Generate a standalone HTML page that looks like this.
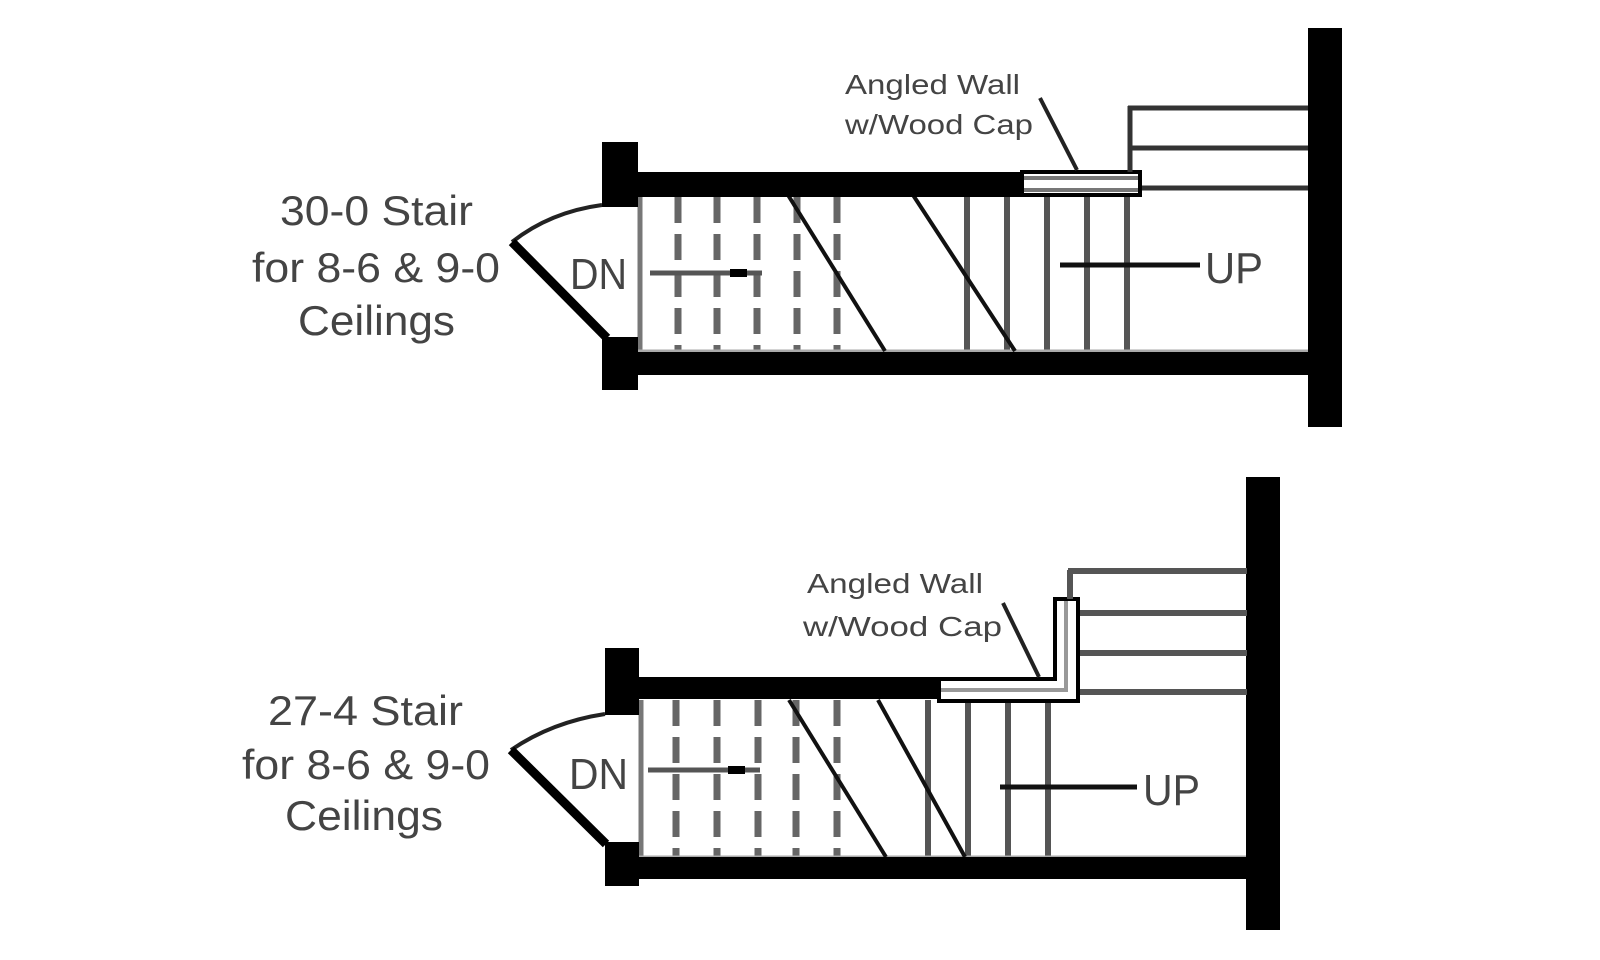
<!DOCTYPE html>
<html><head><meta charset="utf-8"><style>
html,body{margin:0;padding:0;background:#fff;}
svg{display:block;}
text{font-family:"Liberation Sans",sans-serif;fill:#444;}
</style></head><body>
<svg width="1600" height="960" viewBox="0 0 1600 960" xmlns="http://www.w3.org/2000/svg">
<rect width="1600" height="960" fill="#fff"/>

<!-- ========== TOP DIAGRAM ========== -->
<g>
  <text x="280" y="225" font-size="42" textLength="193" lengthAdjust="spacingAndGlyphs">30-0 Stair</text>
  <text x="252" y="282" font-size="42" textLength="248" lengthAdjust="spacingAndGlyphs">for 8-6 &amp; 9-0</text>
  <text x="298" y="335" font-size="42" textLength="157" lengthAdjust="spacingAndGlyphs">Ceilings</text>
  <text x="845" y="94" font-size="28" textLength="175" lengthAdjust="spacingAndGlyphs">Angled Wall</text>
  <text x="845" y="134" font-size="28" textLength="188" lengthAdjust="spacingAndGlyphs">w/Wood Cap</text>
  <text x="570" y="289" font-size="44" textLength="57" lengthAdjust="spacingAndGlyphs" fill="#333">DN</text>
  <text x="1205" y="283" font-size="44" textLength="58" lengthAdjust="spacingAndGlyphs" fill="#333">UP</text>

  <g stroke="#666" stroke-width="7" stroke-dasharray="26,11">
    <line x1="678" y1="197" x2="678" y2="352"/>
    <line x1="717" y1="197" x2="717" y2="352"/>
    <line x1="757" y1="197" x2="757" y2="352"/>
    <line x1="797" y1="197" x2="797" y2="352"/>
    <line x1="837" y1="197" x2="837" y2="352"/>
  </g>
  <g stroke="#555" stroke-width="6">
    <line x1="967" y1="197" x2="967" y2="352"/>
    <line x1="1007" y1="197" x2="1007" y2="352"/>
    <line x1="1047" y1="197" x2="1047" y2="352"/>
    <line x1="1087" y1="197" x2="1087" y2="352"/>
    <line x1="1127" y1="197" x2="1127" y2="352"/>
  </g>
  <line x1="640" y1="197" x2="640" y2="352" stroke="#777" stroke-width="5"/>
  <line x1="638" y1="351" x2="1308" y2="351" stroke="#aaa" stroke-width="3"/>
  <g stroke="#111" stroke-width="4">
    <line x1="788" y1="195" x2="885" y2="351"/>
    <line x1="913" y1="195" x2="1015" y2="351"/>
  </g>
  <line x1="650" y1="273" x2="762" y2="273" stroke="#555" stroke-width="5"/>
  <rect x="730" y="269" width="17" height="8" fill="#000"/>
  <line x1="1060" y1="265" x2="1200" y2="265" stroke="#111" stroke-width="5"/>

  <rect x="602" y="142" width="36" height="65" fill="#000"/>
  <rect x="602" y="337" width="36" height="53" fill="#000"/>
  <rect x="636" y="172" width="386" height="25" fill="#000"/>
  <rect x="636" y="352" width="674" height="23" fill="#000"/>
  <rect x="1308" y="28" width="34" height="399" fill="#000"/>

  <rect x="1022" y="172" width="118" height="23" fill="#fff" stroke="#000" stroke-width="4"/>
  <line x1="1024" y1="178" x2="1138" y2="178" stroke="#777" stroke-width="4"/>
  <line x1="1024" y1="190" x2="1138" y2="190" stroke="#777" stroke-width="4"/>
  <line x1="1040" y1="98" x2="1077" y2="170" stroke="#222" stroke-width="4"/>

  <g stroke="#333" stroke-width="5">
    <line x1="1130" y1="106" x2="1130" y2="172"/>
    <line x1="1128" y1="108" x2="1308" y2="108"/>
    <line x1="1130" y1="148" x2="1308" y2="148"/>
    <line x1="1142" y1="188" x2="1308" y2="188"/>
  </g>

  <path d="M602,205 Q550,212 512,242" fill="none" stroke="#222" stroke-width="4"/>
  <line x1="512" y1="242" x2="607" y2="338" stroke="#000" stroke-width="9"/>
</g>

<!-- ========== BOTTOM DIAGRAM ========== -->
<g>
  <text x="268" y="725" font-size="42" textLength="195" lengthAdjust="spacingAndGlyphs">27-4 Stair</text>
  <text x="242" y="779" font-size="42" textLength="248" lengthAdjust="spacingAndGlyphs">for 8-6 &amp; 9-0</text>
  <text x="285" y="830" font-size="42" textLength="158" lengthAdjust="spacingAndGlyphs">Ceilings</text>
  <text x="807" y="593" font-size="28" textLength="176" lengthAdjust="spacingAndGlyphs">Angled Wall</text>
  <text x="803" y="636" font-size="28" textLength="199" lengthAdjust="spacingAndGlyphs">w/Wood Cap</text>
  <text x="569" y="789" font-size="44" textLength="59" lengthAdjust="spacingAndGlyphs" fill="#333">DN</text>
  <text x="1143" y="805" font-size="44" textLength="57" lengthAdjust="spacingAndGlyphs" fill="#333">UP</text>

  <g stroke="#666" stroke-width="7" stroke-dasharray="26,11">
    <line x1="676" y1="700" x2="676" y2="858"/>
    <line x1="717" y1="700" x2="717" y2="858"/>
    <line x1="758" y1="700" x2="758" y2="858"/>
    <line x1="796" y1="700" x2="796" y2="858"/>
    <line x1="837" y1="700" x2="837" y2="858"/>
  </g>
  <g stroke="#555" stroke-width="6">
    <line x1="928" y1="700" x2="928" y2="858"/>
    <line x1="968" y1="700" x2="968" y2="858"/>
    <line x1="1008" y1="700" x2="1008" y2="858"/>
    <line x1="1048" y1="700" x2="1048" y2="858"/>
  </g>
  <line x1="641" y1="700" x2="641" y2="858" stroke="#777" stroke-width="5"/>
  <line x1="638" y1="857" x2="1248" y2="857" stroke="#aaa" stroke-width="3"/>
  <g stroke="#111" stroke-width="4">
    <line x1="789" y1="700" x2="886" y2="857"/>
    <line x1="878" y1="700" x2="965" y2="857"/>
  </g>
  <line x1="648" y1="770" x2="760" y2="770" stroke="#555" stroke-width="5"/>
  <rect x="728" y="766" width="17" height="8" fill="#000"/>
  <line x1="1000" y1="787" x2="1137" y2="787" stroke="#111" stroke-width="5"/>

  <rect x="605" y="648" width="34" height="67" fill="#000"/>
  <rect x="605" y="842" width="34" height="44" fill="#000"/>
  <rect x="637" y="677" width="302" height="22" fill="#000"/>
  <rect x="637" y="857" width="612" height="22" fill="#000"/>
  <rect x="1246" y="477" width="34" height="453" fill="#000"/>

  <path d="M939,679 L1055,679 L1055,599 L1078,599 L1078,701 L939,701 Z" fill="#fff" stroke="#000" stroke-width="4"/>
  <path d="M941,690 L1066,690 L1066,601" fill="none" stroke="#999" stroke-width="4"/>
  <line x1="1003" y1="603" x2="1039" y2="677" stroke="#222" stroke-width="4"/>

  <g stroke="#555" stroke-width="6">
    <line x1="1070" y1="570" x2="1070" y2="599"/>
    <line x1="1068" y1="571" x2="1247" y2="571"/>
    <line x1="1080" y1="613" x2="1247" y2="613"/>
    <line x1="1080" y1="653" x2="1247" y2="653"/>
    <line x1="1080" y1="692" x2="1247" y2="692"/>
  </g>

  <path d="M605,714 Q552,722 511,750" fill="none" stroke="#222" stroke-width="4"/>
  <line x1="511" y1="750" x2="606" y2="844" stroke="#000" stroke-width="9"/>
</g>
</svg>
</body></html>
